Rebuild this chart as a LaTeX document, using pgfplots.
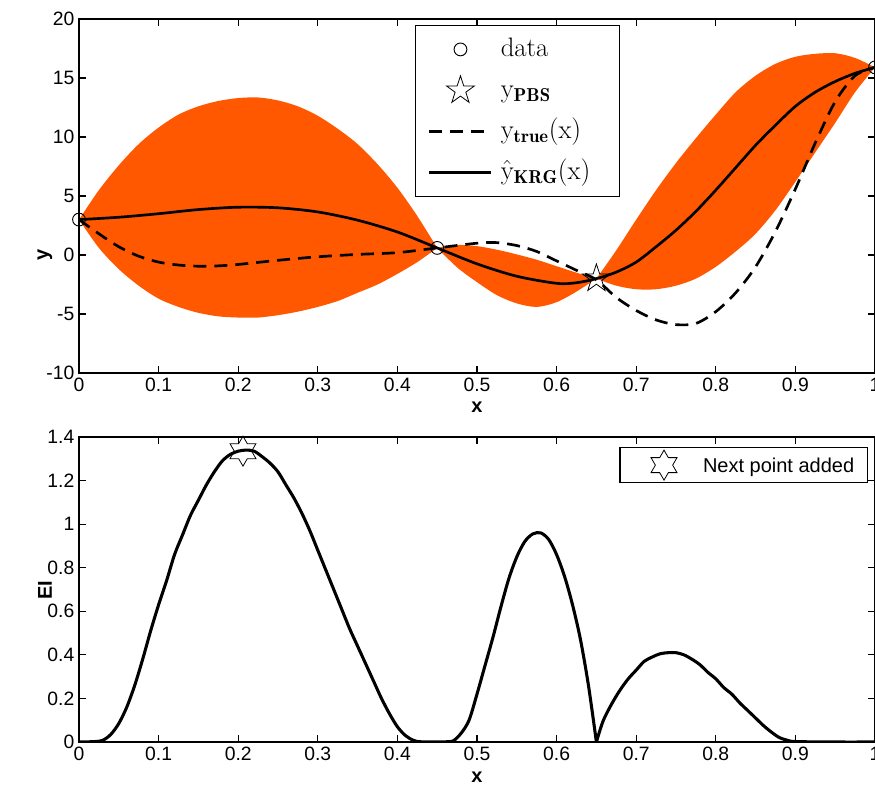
\documentclass[border=0pt]{standalone}
\usepackage{fontspec}
\usepackage{pgfplots}
\pgfplotsset{compat=1.18}
\usepgfplotslibrary{fillbetween}
\newfontfamily\arial{Liberation Sans}
\definecolor{bandc}{RGB}{255,88,0}

\pgfdeclareplotmark{pentagram}{%
  \pgfpathmoveto{\pgfpointpolar{90}{\pgfplotmarksize}}%
  \pgfpathlineto{\pgfpointpolar{126}{0.382\pgfplotmarksize}}%
  \pgfpathlineto{\pgfpointpolar{162}{\pgfplotmarksize}}%
  \pgfpathlineto{\pgfpointpolar{198}{0.382\pgfplotmarksize}}%
  \pgfpathlineto{\pgfpointpolar{234}{\pgfplotmarksize}}%
  \pgfpathlineto{\pgfpointpolar{270}{0.382\pgfplotmarksize}}%
  \pgfpathlineto{\pgfpointpolar{306}{\pgfplotmarksize}}%
  \pgfpathlineto{\pgfpointpolar{342}{0.382\pgfplotmarksize}}%
  \pgfpathlineto{\pgfpointpolar{18}{\pgfplotmarksize}}%
  \pgfpathlineto{\pgfpointpolar{54}{0.382\pgfplotmarksize}}%
  \pgfpathclose
  \pgfusepathqstroke
}
\pgfdeclareplotmark{hexagram}{%
  \pgfpathmoveto{\pgfpointpolar{90}{\pgfplotmarksize}}%
  \pgfpathlineto{\pgfpointpolar{120}{0.577\pgfplotmarksize}}%
  \pgfpathlineto{\pgfpointpolar{150}{\pgfplotmarksize}}%
  \pgfpathlineto{\pgfpointpolar{180}{0.577\pgfplotmarksize}}%
  \pgfpathlineto{\pgfpointpolar{210}{\pgfplotmarksize}}%
  \pgfpathlineto{\pgfpointpolar{240}{0.577\pgfplotmarksize}}%
  \pgfpathlineto{\pgfpointpolar{270}{\pgfplotmarksize}}%
  \pgfpathlineto{\pgfpointpolar{300}{0.577\pgfplotmarksize}}%
  \pgfpathlineto{\pgfpointpolar{330}{\pgfplotmarksize}}%
  \pgfpathlineto{\pgfpointpolar{0}{0.577\pgfplotmarksize}}%
  \pgfpathlineto{\pgfpointpolar{30}{\pgfplotmarksize}}%
  \pgfpathlineto{\pgfpointpolar{60}{0.577\pgfplotmarksize}}%
  \pgfpathclose
  \pgfusepathqstroke
}

\pgfplotsset{
  legimg/.style={legend image code/.code={\path[draw=none,fill=none] (0pt,0pt) rectangle (46.5pt,0.1pt);\draw[mark repeat=2,mark phase=2,##1] plot coordinates {(0pt,0pt) (23.25pt,0pt) (46.5pt,0pt)};}},
  myaxis/.style={
    scale only axis, width=597pt, xmin=0, xmax=1,
    axis line style={line width=0.9pt, black},
    every tick/.style={black, line width=0.8pt},
    major tick length=5pt, tick align=inside,
    xtick={0,0.1,0.2,0.3,0.4,0.5,0.6,0.7,0.8,0.9,1},
    xticklabels={0,0.1,0.2,0.3,0.4,0.5,0.6,0.7,0.8,0.9,1},
    ticklabel style={font={\arial\fontsize{14.5}{16}\selectfont}},
    label style={font={\arial\bfseries\fontsize{15}{18}\selectfont}},
    clip mode=individual,
    /pgf/number format/assume math mode=true,
    legend cell align=left,
    legimg,
  }
}

\begin{document}
\begin{tikzpicture}
% ---------------- top axis ----------------
\begin{axis}[myaxis,
  at={(59.25pt,-279.75pt)}, anchor=south west,
  height=265.5pt,
  ymin=-10, ymax=20,
  ytick={-10,-5,0,5,10,15,20},
  yticklabels={-10,-5,0,5,10,15,20},
  xlabel={x}, ylabel={y},
  xlabel style={at={(axis description cs:0.5,-0.096)}, anchor=center},
  ylabel style={at={(axis description cs:-0.0427,0.333)}, anchor=center},
  legend style={at={(0.4216,0.983)}, anchor=north west, draw=black, line width=0.8pt, fill=white,
    inner xsep=9.75pt, inner ysep=2.5pt, column sep=6pt, row sep=0pt,
    nodes={inner sep=0pt, text height=20.4pt, text depth=10.4pt, text width=79pt, align=left,
      font={\fontsize{20}{22}\selectfont}}},
]
\addlegendimage{only marks, legimg, mark=o, mark size=4.8pt, black, line width=0.7pt}
\addlegendentry{data}
\addlegendimage{only marks, legimg, mark=pentagram, mark size=11pt, black, line width=0.6pt}
\addlegendentry{$\mathrm{y}_{\mathbf{PBS}}$}
\addlegendimage{black, line width=2pt, dash pattern=on 9.75pt off 6pt}
\addlegendentry{$\mathrm{y}_{\mathbf{true}}(\mathrm{x})$}
\addlegendimage{black, line width=2pt}
\addlegendentry{$\hat{\mathrm{y}}_{\mathbf{KRG}}(\mathrm{x})$}

% uncertainty band, lobe 1
\addplot[name path=u1, draw=none, smooth, forget plot] coordinates {
 (0,3) (0.025,5.5) (0.05,7.6) (0.075,9.4) (0.1,10.8) (0.125,11.9) (0.15,12.6) (0.175,13.05)
 (0.2,13.3) (0.225,13.35) (0.25,13.1) (0.275,12.6) (0.3,11.8) (0.325,10.7) (0.35,9.4)
 (0.375,7.7) (0.4,5.7) (0.425,3.3) (0.45,0.6)};
\addplot[name path=l1, draw=none, smooth, forget plot] coordinates {
 (0,3) (0.025,0.6) (0.05,-1.2) (0.075,-2.6) (0.1,-3.7) (0.125,-4.4) (0.15,-4.9) (0.175,-5.2)
 (0.2,-5.3) (0.225,-5.3) (0.25,-5.1) (0.275,-4.8) (0.3,-4.4) (0.325,-3.9) (0.35,-3.2)
 (0.375,-2.5) (0.4,-1.6) (0.425,-0.6) (0.45,0.6)};
\addplot[bandc, forget plot] fill between[of=u1 and l1];
% lobe 2
\addplot[name path=u2, draw=none, smooth, forget plot] coordinates {
 (0.45,0.6) (0.475,0.85) (0.5,0.75) (0.525,0.45) (0.55,0.05) (0.575,-0.4) (0.6,-0.95) (0.625,-1.5) (0.65,-2.0)};
\addplot[name path=l2, draw=none, smooth, forget plot] coordinates {
 (0.45,0.6) (0.475,-1.05) (0.5,-2.3) (0.525,-3.4) (0.55,-4.1) (0.575,-4.4) (0.6,-4.0) (0.625,-3.1) (0.65,-2.0)};
\addplot[bandc, forget plot] fill between[of=u2 and l2];
% lobe 3
\addplot[name path=u3, draw=none, smooth, forget plot] coordinates {
 (0.65,-2.0) (0.675,0.4) (0.7,3.0) (0.725,5.5) (0.75,7.8) (0.775,9.9) (0.8,11.9) (0.825,13.8)
 (0.85,15.2) (0.875,16.2) (0.9,16.8) (0.925,17.05) (0.95,17.1) (0.975,16.7) (1,15.9)};
\addplot[name path=l3, draw=none, smooth, forget plot] coordinates {
 (0.65,-2.0) (0.675,-2.6) (0.7,-2.9) (0.725,-2.9) (0.75,-2.6) (0.775,-2.0) (0.8,-1.0) (0.825,0.3)
 (0.85,1.8) (0.875,3.8) (0.9,6.2) (0.925,8.7) (0.95,11.2) (0.975,13.8) (1,15.9)};
\addplot[bandc, forget plot] fill between[of=u3 and l3];

% true function (dashed)
\addplot[black, line width=2pt, dash pattern=on 9.75pt off 6pt, smooth, forget plot] coordinates {
 (0,3) (0.025,1.8) (0.05,0.7) (0.075,-0.1) (0.1,-0.6) (0.125,-0.85) (0.15,-0.95) (0.175,-0.92)
 (0.2,-0.8) (0.25,-0.45) (0.3,-0.15) (0.35,0.05) (0.4,0.2) (0.45,0.6) (0.5,1.0) (0.525,1.05)
 (0.55,0.8) (0.575,0.3) (0.6,-0.5) (0.625,-1.3) (0.65,-2.1) (0.675,-3.6) (0.7,-4.7)
 (0.725,-5.5) (0.75,-5.9) (0.775,-5.8) (0.8,-4.8) (0.825,-3.2) (0.85,-1.0) (0.875,2.0)
 (0.9,5.6) (0.925,9.5) (0.95,13.0) (0.975,15.2) (1,15.9)};
% kriging mean (solid)
\addplot[black, line width=2pt, smooth, forget plot] coordinates {
 (0,3.0) (0.05,3.2) (0.1,3.5) (0.15,3.85) (0.2,4.05) (0.25,4.0) (0.3,3.65) (0.35,2.95)
 (0.4,1.95) (0.45,0.6) (0.5,-0.75) (0.55,-1.8) (0.6,-2.4) (0.625,-2.35) (0.65,-2.0)
 (0.675,-1.45) (0.7,-0.6) (0.725,0.7) (0.75,2.1) (0.775,3.7) (0.8,5.5) (0.825,7.4)
 (0.85,9.3) (0.875,11.0) (0.9,12.6) (0.925,13.8) (0.95,14.7) (0.975,15.4) (1,15.9)};
% data points
\addplot[only marks, mark=o, mark size=4.8pt, black, line width=0.7pt, forget plot] coordinates {
 (0,3) (0.45,0.6) (1,15.9)};
% PBS point
\addplot[only marks, mark=pentagram, mark size=11pt, black, line width=0.6pt, forget plot] coordinates {
 (0.65,-2.0)};
\end{axis}

% ---------------- bottom axis ----------------
\begin{axis}[myaxis,
  at={(59.25pt,-556.5pt)}, anchor=south west,
  height=228.75pt,
  ymin=0, ymax=1.4,
  ytick={0,0.2,0.4,0.6,0.8,1,1.2,1.4},
  yticklabels={0,0.2,0.4,0.6,0.8,1,1.2,1.4},
  xlabel={x}, ylabel={EI},
  xlabel style={at={(axis description cs:0.5,-0.115)}, anchor=center},
  ylabel style={at={(axis description cs:-0.0427,0.498)}, anchor=center},
  legend style={at={(0.679,0.967)}, anchor=north west, draw=black, line width=0.8pt, fill=white,
    inner xsep=9.75pt, inner ysep=1.9pt, column sep=6pt,
    nodes={inner sep=0pt, text height=13pt, text depth=2.2pt, font={\arial\fontsize{15}{18}\selectfont}}},
]
\addlegendimage{only marks, legimg, mark=hexagram, mark size=11.25pt, black, line width=0.6pt}
\addlegendentry{Next point added}
\addplot[black, line width=2.3pt, smooth, forget plot] coordinates {
 (0,0) (0.02,0.002) (0.03,0.008) (0.04,0.035) (0.05,0.085) (0.06,0.16) (0.07,0.26) (0.08,0.38)
 (0.09,0.51) (0.1,0.63) (0.11,0.74) (0.12,0.86) (0.13,0.95) (0.14,1.04) (0.15,1.11) (0.16,1.18)
 (0.17,1.24) (0.18,1.29) (0.19,1.32) (0.2,1.335) (0.21,1.34) (0.22,1.335) (0.23,1.31)
 (0.24,1.28) (0.25,1.24) (0.26,1.18) (0.27,1.12) (0.28,1.05) (0.29,0.97) (0.3,0.88)
 (0.31,0.79) (0.32,0.70) (0.33,0.61) (0.34,0.52) (0.35,0.44) (0.36,0.36) (0.37,0.28)
 (0.38,0.20) (0.39,0.13) (0.4,0.07) (0.41,0.03) (0.42,0.008) (0.43,0.001) (0.46,0.001)
 (0.47,0.005) (0.48,0.04) (0.49,0.10) (0.5,0.22) (0.51,0.35) (0.52,0.48) (0.53,0.62)
 (0.54,0.75) (0.55,0.85) (0.56,0.92) (0.57,0.955) (0.58,0.96) (0.59,0.93) (0.6,0.86)
 (0.61,0.76) (0.62,0.63) (0.63,0.47) (0.64,0.26) (0.65,0)};
\addplot[black, line width=2.3pt, smooth, forget plot] coordinates {
 (0.65,0) (0.655,0.06) (0.66,0.11) (0.67,0.18) (0.68,0.24) (0.69,0.29) (0.7,0.33) (0.71,0.37)
 (0.72,0.39) (0.73,0.405) (0.74,0.41) (0.75,0.41) (0.76,0.40) (0.77,0.38) (0.78,0.355)
 (0.79,0.32) (0.8,0.29) (0.81,0.25) (0.82,0.22) (0.83,0.18) (0.84,0.145) (0.85,0.11)
 (0.86,0.075) (0.87,0.045) (0.88,0.02) (0.89,0.008) (0.9,0.002) (0.95,0) (1,0)};
\addplot[only marks, mark=hexagram, mark size=11.25pt, black, line width=0.6pt, forget plot] coordinates {
 (0.206,1.335)};
\end{axis}

\pgfresetboundingbox
\path[use as bounding box] (0pt,0pt) rectangle (656.25pt,-597pt);
\end{tikzpicture}
\end{document}
